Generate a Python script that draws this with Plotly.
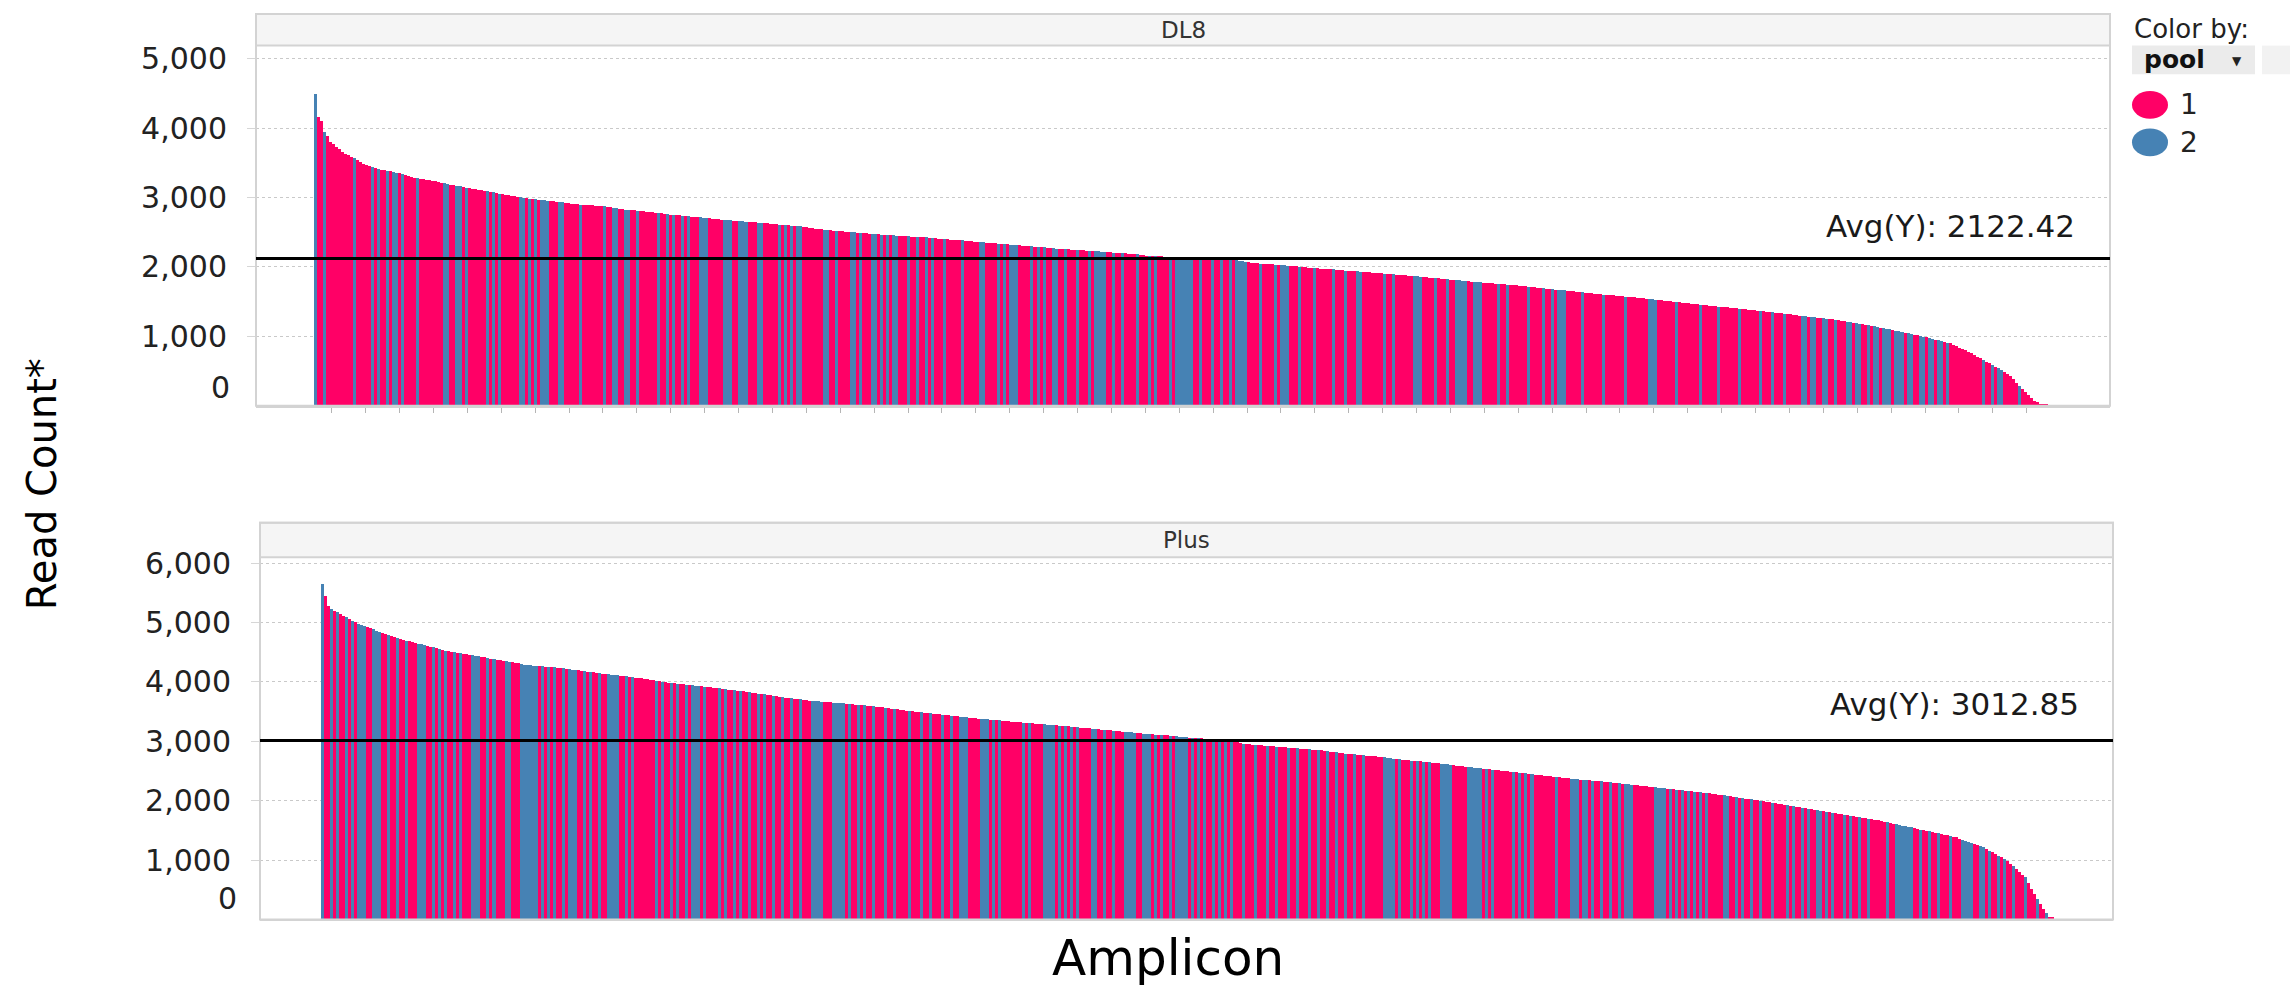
import plotly.graph_objects as go

# ---------------------------------------------------------------------------
# Data: read counts per amplicon, sorted high -> low, for each panel
# ---------------------------------------------------------------------------
DL8_READS = [
    4500, 4170, 4110, 3950, 3900, 3810, 3780, 3740, 3700, 3667, 3640, 3615, 3590, 3571, 3545, 3520, 3495, 3476, 3460, 3445, 3430, 3418, 3405, 3398,
    3392, 3386, 3381, 3368, 3356, 3343, 3330, 3318, 3306, 3296, 3286, 3278, 3270, 3263, 3256, 3248, 3241, 3228, 3218, 3210, 3200, 3192, 3184, 3176,
    3168, 3158, 3150, 3143, 3135, 3128, 3120, 3112, 3104, 3097, 3089, 3081, 3073, 3065, 3057, 3048, 3040, 3032, 3024, 3016, 3008, 3000, 2996, 2991,
    2986, 2981, 2976, 2971, 2966, 2961, 2956, 2952, 2947, 2943, 2938, 2932, 2927, 2921, 2916, 2910, 2905, 2902, 2899, 2896, 2893, 2889, 2886, 2882,
    2878, 2871, 2865, 2858, 2852, 2846, 2839, 2833, 2829, 2825, 2821, 2817, 2812, 2808, 2804, 2800, 2795, 2790, 2784, 2778, 2773, 2767, 2762, 2758,
    2754, 2750, 2746, 2742, 2737, 2733, 2729, 2725, 2720, 2716, 2711, 2707, 2702, 2698, 2693, 2689, 2686, 2682, 2678, 2675, 2671, 2667, 2664, 2660,
    2656, 2652, 2648, 2645, 2641, 2637, 2633, 2630, 2626, 2622, 2618, 2614, 2610, 2606, 2602, 2598, 2594, 2590, 2584, 2578, 2572, 2566, 2559, 2553,
    2547, 2541, 2538, 2534, 2531, 2527, 2524, 2520, 2517, 2513, 2509, 2506, 2502, 2498, 2495, 2491, 2487, 2484, 2480, 2477, 2474, 2471, 2468, 2465,
    2462, 2459, 2456, 2453, 2451, 2448, 2445, 2443, 2440, 2437, 2435, 2432, 2428, 2424, 2420, 2416, 2412, 2408, 2405, 2401, 2398, 2395, 2391, 2388,
    2385, 2381, 2377, 2373, 2369, 2365, 2361, 2357, 2354, 2350, 2346, 2342, 2339, 2335, 2332, 2328, 2325, 2321, 2318, 2315, 2311, 2308, 2305, 2301,
    2298, 2295, 2290, 2285, 2281, 2276, 2271, 2268, 2266, 2263, 2260, 2257, 2255, 2252, 2249, 2246, 2243, 2241, 2238, 2235, 2232, 2228, 2224, 2220,
    2217, 2213, 2209, 2207, 2205, 2202, 2200, 2198, 2195, 2189, 2183, 2177, 2171, 2168, 2166, 2163, 2160, 2158, 2155, 2152, 2150, 2147, 2144, 2141,
    2138, 2135, 2132, 2129, 2127, 2124, 2121, 2118, 2116, 2114, 2113, 2111, 2110, 2108, 2106, 2105, 2103, 2102, 2100, 2094, 2088, 2082, 2076, 2069,
    2063, 2057, 2054, 2051, 2048, 2045, 2042, 2039, 2036, 2033, 2029, 2025, 2021, 2018, 2014, 2010, 2006, 2002, 1998, 1994, 1990, 1986, 1983, 1980,
    1977, 1974, 1971, 1967, 1963, 1959, 1955, 1951, 1947, 1944, 1941, 1937, 1934, 1931, 1927, 1924, 1921, 1917, 1914, 1910, 1907, 1903, 1900, 1896,
    1893, 1889, 1886, 1882, 1878, 1874, 1870, 1866, 1862, 1858, 1854, 1850, 1846, 1842, 1838, 1834, 1830, 1825, 1821, 1817, 1812, 1808, 1804, 1799,
    1795, 1791, 1787, 1784, 1780, 1777, 1773, 1769, 1766, 1762, 1759, 1755, 1752, 1748, 1744, 1739, 1735, 1731, 1726, 1722, 1718, 1713, 1709, 1704,
    1700, 1695, 1691, 1686, 1681, 1676, 1672, 1667, 1662, 1658, 1653, 1648, 1644, 1640, 1635, 1631, 1627, 1622, 1618, 1614, 1609, 1605, 1600, 1596,
    1592, 1587, 1583, 1579, 1574, 1570, 1566, 1561, 1557, 1553, 1548, 1544, 1539, 1534, 1530, 1525, 1520, 1515, 1511, 1506, 1501, 1497, 1492, 1487,
    1482, 1477, 1473, 1468, 1463, 1459, 1454, 1449, 1444, 1440, 1435, 1431, 1426, 1422, 1418, 1413, 1409, 1404, 1400, 1396, 1391, 1387, 1382, 1378,
    1373, 1368, 1363, 1358, 1352, 1347, 1342, 1337, 1332, 1326, 1321, 1316, 1311, 1306, 1301, 1296, 1291, 1286, 1280, 1275, 1270, 1265, 1260, 1255,
    1249, 1242, 1236, 1229, 1222, 1215, 1208, 1202, 1195, 1188, 1182, 1175, 1167, 1158, 1149, 1140, 1131, 1122, 1114, 1105, 1096, 1088, 1079, 1070,
    1061, 1051, 1041, 1031, 1021, 1011, 1001, 991, 981, 971, 960, 949, 938, 926, 915, 903, 883, 864, 844, 824, 805, 785, 761, 737,
    713, 689, 665, 641, 618, 594, 570, 547, 523, 493, 463, 433, 386, 338, 290, 244, 199, 153, 115, 77, 55, 34, 29, 25,
]

PLUS_READS = [
    5646, 5449, 5281, 5230, 5197, 5168, 5140, 5112, 5084, 5056, 5028, 5000, 4979, 4958, 4937, 4916, 4898, 4880, 4861, 4843, 4824, 4805, 4785, 4766,
    4747, 4733, 4719, 4705, 4691, 4677, 4663, 4651, 4639, 4627, 4615, 4603, 4591, 4579, 4564, 4550, 4535, 4520, 4512, 4504, 4496, 4488, 4479, 4471,
    4463, 4455, 4446, 4436, 4427, 4418, 4409, 4399, 4390, 4381, 4372, 4362, 4353, 4344, 4335, 4326, 4317, 4307, 4298, 4289, 4280, 4275, 4271, 4266,
    4262, 4257, 4252, 4248, 4243, 4239, 4234, 4230, 4225, 4218, 4211, 4204, 4197, 4190, 4183, 4176, 4170, 4163, 4156, 4149, 4142, 4135, 4129, 4123,
    4117, 4111, 4105, 4099, 4094, 4088, 4082, 4076, 4070, 4064, 4056, 4048, 4040, 4032, 4024, 4016, 4007, 3999, 3991, 3983, 3975, 3970, 3965, 3960,
    3954, 3949, 3944, 3939, 3934, 3929, 3923, 3918, 3913, 3907, 3900, 3894, 3887, 3881, 3874, 3868, 3861, 3855, 3848, 3842, 3835, 3829, 3822, 3814,
    3807, 3799, 3792, 3785, 3777, 3770, 3762, 3755, 3747, 3740, 3733, 3727, 3720, 3713, 3706, 3700, 3693, 3686, 3682, 3678, 3673, 3669, 3665, 3661,
    3657, 3652, 3648, 3644, 3639, 3634, 3629, 3624, 3620, 3615, 3610, 3605, 3599, 3594, 3588, 3583, 3577, 3571, 3566, 3560, 3553, 3547, 3540, 3533,
    3527, 3520, 3513, 3507, 3500, 3493, 3487, 3482, 3476, 3471, 3465, 3459, 3454, 3448, 3443, 3437, 3431, 3426, 3420, 3415, 3409, 3403, 3398, 3392,
    3388, 3383, 3379, 3374, 3370, 3365, 3361, 3356, 3352, 3347, 3342, 3338, 3333, 3329, 3324, 3320, 3315, 3311, 3306, 3302, 3297, 3293, 3289, 3285,
    3281, 3277, 3273, 3269, 3265, 3261, 3257, 3252, 3247, 3242, 3237, 3233, 3228, 3223, 3218, 3213, 3208, 3203, 3198, 3193, 3188, 3183, 3178, 3173,
    3168, 3163, 3158, 3153, 3149, 3144, 3139, 3134, 3129, 3125, 3121, 3118, 3114, 3110, 3106, 3103, 3099, 3095, 3089, 3084, 3078, 3073, 3067, 3063,
    3059, 3055, 3051, 3047, 3043, 3040, 3036, 3032, 3028, 3024, 3020, 3016, 3013, 3010, 2995, 2985, 2976, 2967, 2958, 2951, 2944, 2940, 2936, 2932,
    2928, 2924, 2920, 2916, 2912, 2908, 2904, 2899, 2895, 2890, 2885, 2880, 2876, 2871, 2867, 2863, 2859, 2856, 2852, 2848, 2844, 2837, 2830, 2822,
    2815, 2808, 2800, 2793, 2788, 2784, 2779, 2774, 2770, 2765, 2761, 2756, 2752, 2747, 2743, 2737, 2730, 2724, 2717, 2711, 2705, 2698, 2692, 2687,
    2682, 2676, 2671, 2666, 2661, 2656, 2651, 2645, 2640, 2635, 2629, 2623, 2617, 2611, 2605, 2599, 2593, 2587, 2581, 2575, 2569, 2563, 2557, 2552,
    2546, 2541, 2535, 2530, 2524, 2518, 2513, 2507, 2502, 2496, 2490, 2484, 2478, 2472, 2466, 2460, 2454, 2448, 2441, 2435, 2429, 2423, 2417, 2412,
    2406, 2401, 2395, 2390, 2384, 2378, 2373, 2367, 2362, 2356, 2351, 2347, 2342, 2337, 2333, 2328, 2323, 2319, 2314, 2309, 2305, 2300, 2294, 2289,
    2283, 2278, 2272, 2266, 2261, 2255, 2249, 2244, 2238, 2233, 2227, 2221, 2216, 2210, 2205, 2199, 2194, 2188, 2182, 2177, 2171, 2166, 2160, 2154,
    2148, 2142, 2136, 2130, 2124, 2117, 2111, 2105, 2099, 2093, 2087, 2079, 2071, 2063, 2055, 2047, 2039, 2032, 2024, 2016, 2008, 2000, 1992, 1984,
    1976, 1968, 1960, 1952, 1944, 1936, 1928, 1920, 1912, 1904, 1896, 1888, 1879, 1871, 1862, 1854, 1846, 1837, 1829, 1820, 1812, 1803, 1795, 1786,
    1778, 1769, 1761, 1752, 1744, 1735, 1727, 1718, 1710, 1701, 1693, 1684, 1673, 1662, 1652, 1641, 1630, 1619, 1609, 1598, 1587, 1576, 1566, 1555,
    1544, 1533, 1522, 1510, 1499, 1488, 1477, 1466, 1455, 1443, 1432, 1421, 1410, 1398, 1387, 1376, 1357, 1339, 1320, 1301, 1283, 1264, 1245, 1227,
    1208, 1180, 1152, 1124, 1096, 1067, 1039, 1011, 983, 936, 889, 842, 796, 749, 702, 608, 515, 421, 337, 253, 169, 105, 40, 28,
]

# Amplicon positions (in sorted order) that belong to pool 2; all others are pool 1
DL8_POOL2 = [
    0, 3, 13, 19, 21, 24, 26, 27, 29, 34, 43, 44, 47, 48, 50, 57, 59, 61, 68, 69, 71, 73, 75, 76, 77, 81, 82, 88,
    96, 99, 100, 103, 104, 107, 114, 117, 119, 122, 124, 128, 129, 130, 136, 137, 138, 141, 142, 143, 147, 148,
    154, 156, 158, 160, 161, 169, 170, 173, 178, 179, 181, 185, 186, 188, 190, 192, 193, 197, 200, 203, 205, 209,
    215, 221, 222, 227, 229, 231, 232, 233, 238, 240, 242, 245, 246, 249, 253, 257, 259, 260, 261, 262, 265, 268,
    273, 277, 279, 284, 286, 287, 288, 289, 290, 291, 294, 298, 301, 304, 306, 307, 308, 309, 314, 319, 321, 322,
    323, 327, 332, 338, 342, 346, 347, 355, 358, 365, 366, 367, 372, 376, 379, 380, 381, 382, 385, 386, 387, 393,
    396, 403, 408, 411, 413, 414, 415, 421, 428, 435, 443, 444, 445, 452, 460, 466, 473, 480, 484, 488, 494, 495,
    497, 498, 501, 502, 505, 509, 510, 512, 513, 516, 518, 519, 521, 522, 523, 525, 526, 527, 529, 530, 533, 534,
    536, 537, 539, 540, 542, 554, 557, 559, 560, 566,
]

PLUS_POOL2 = [
    0, 3, 5, 8, 10, 12, 13, 14, 17, 18, 19, 22, 25, 28, 32, 33, 34, 37, 39, 41, 44, 46, 50, 51, 52, 55, 57, 61, 62,
    66, 67, 68, 69, 70, 71, 73, 75, 77, 80, 82, 83, 84, 87, 89, 92, 95, 96, 97, 98, 101, 103, 111, 113, 116, 118,
    121, 123, 124, 125, 127, 132, 134, 137, 139, 142, 145, 147, 150, 153, 156, 159, 163, 164, 165, 166, 170, 171,
    172, 173, 175, 178, 180, 183, 187, 190, 195, 199, 202, 206, 209, 212, 213, 214, 219, 220, 221, 223, 225, 233,
    235, 240, 241, 242, 243, 245, 247, 249, 251, 256, 257, 260, 263, 267, 268, 269, 270, 273, 274, 275, 277, 279,
    282, 284, 285, 286, 287, 289, 291, 293, 296, 298, 300, 302, 306, 310, 314, 317, 321, 324, 328, 331, 334, 337,
    340, 343, 346, 353, 354, 355, 356, 358, 362, 364, 366, 368, 372, 373, 374, 375, 381, 382, 383, 384, 385, 387,
    389, 396, 398, 400, 402, 410, 415, 416, 417, 419, 420, 422, 425, 428, 431, 433, 434, 435, 443, 444, 445, 446,
    448, 450, 452, 454, 456, 458, 460, 466, 467, 470, 472, 475, 478, 482, 487, 489, 492, 494, 497, 498, 500, 502,
    506, 508, 511, 514, 520, 523, 524, 525, 526, 527, 528, 531, 534, 537, 541, 545, 546, 547, 548, 551, 552, 554,
    557, 559, 562, 566, 570, 573,
]

DL8_AVG = 2122.42
PLUS_AVG = 3012.85

PANEL_TITLES = ["DL8", "Plus"]
POOL_LABELS = ["1", "2"]
POOL_COLORS = ["#FF0066", "#4682B4"]
DL8_YTICKS = [1000, 2000, 3000, 4000, 5000]
PLUS_YTICKS = [1000, 2000, 3000, 4000, 5000, 6000]

# ---------------------------------------------------------------------------
# Page geometry (pixels)
# ---------------------------------------------------------------------------
W, H = 2290, 989
FONT = "DejaVu Sans"
GRID = "#c9c9c9"
FRAME = "#d3d3d3"
TICK_SIZE = 30


def fx(px):
    return px / W


def fy(py):
    return 1 - py / H


# left/right frame, header top, plot top, baseline, first/last bar edge,
# pixel row of the top gridline and its value
PANELS = [
    dict(left=256, right=2110, head=2, top=34, base=398.5, bar0=314, bar1=2048,
         top_tick_px=47.5, top_tick=5000),
    dict(left=260, right=2113, head=517, top=552, base=918.6, bar0=321, bar1=2054,
         top_tick_px=558.0, top_tick=6000),
]


def pool_colors(n, pool2):
    s = set(pool2)
    return [POOL_COLORS[1] if i in s else POOL_COLORS[0] for i in range(n)]


fig = go.Figure()

series = [(DL8_READS, DL8_POOL2), (PLUS_READS, PLUS_POOL2)]
for k, (reads, pool2) in enumerate(series):
    n = len(reads)
    sfx = "" if k == 0 else str(k + 1)
    fig.add_trace(go.Bar(
        x=list(range(n)), y=reads, width=1.0,
        marker=dict(color=pool_colors(n, pool2), line=dict(width=0)),
        xaxis="x" + sfx, yaxis="y" + sfx, showlegend=False,
        hovertemplate="Amplicon %{x}<br>Read Count %{y}<extra></extra>",
    ))

shapes = []
annotations = []
layout_axes = {}

avgs = [DL8_AVG, PLUS_AVG]
yticks = [DL8_YTICKS, PLUS_YTICKS]
avg_text_px = [(2077, 217), (2081, 701)]
zero_label_px = [(232, 380), (239, 897)]

for k, p in enumerate(PANELS):
    sfx = "" if k == 0 else str(k + 1)
    n = len(series[k][0])
    unit = (p["bar1"] - p["bar0"]) / n
    r0 = -0.5 - (p["bar0"] - p["left"]) / unit
    r1 = r0 + (p["right"] - p["left"]) / unit
    ymax = p["top_tick"] * (p["base"] - p["top"]) / (p["base"] - p["top_tick_px"])

    xa = dict(
        domain=[fx(p["left"]), fx(p["right"])], range=[r0, r1],
        anchor="y" + sfx, showgrid=False, zeroline=False,
        showline=True, linecolor=FRAME, linewidth=2,
        showticklabels=False, fixedrange=True,
    )
    if k == 0:
        step = 33.9 / unit
        first = r0 + (331.7 - p["left"]) / unit
        ticks = []
        t = first
        while t < n:
            ticks.append(t)
            t += step
        xa.update(ticks="outside", ticklen=5, tickwidth=1, tickcolor="#b5b5b5",
                  tickvals=ticks)
    else:
        xa.update(ticks="")

    ya = dict(
        domain=[fy(p["base"]), fy(p["top"])], range=[0, ymax],
        anchor="x" + sfx, showgrid=True, gridcolor=GRID, griddash="dot",
        gridwidth=1, zeroline=False, showline=False,
        tickvals=yticks[k], ticktext=[f"{v:,}" for v in yticks[k]],
        ticks="outside", ticklen=8, tickcolor="#d6d6d6", ticklabelstandoff=14,
        tickfont=dict(family=FONT, size=TICK_SIZE, color="#222222"), fixedrange=True,
    )
    layout_axes["xaxis" + sfx] = xa
    layout_axes["yaxis" + sfx] = ya

    # panel header strip
    shapes.append(dict(type="rect", xref="paper", yref="paper",
                       x0=fx(p["left"]), x1=fx(p["right"]),
                       y0=fy(p["top"]), y1=fy(p["head"]),
                       fillcolor="#f5f5f5", line=dict(color=FRAME, width=2),
                       layer="below"))
    # panel frame
    shapes.append(dict(type="rect", xref="paper", yref="paper",
                       x0=fx(p["left"]), x1=fx(p["right"]),
                       y0=fy(p["base"]), y1=fy(p["head"]),
                       fillcolor="rgba(0,0,0,0)", line=dict(color=FRAME, width=2),
                       layer="above"))
    annotations.append(dict(
        text=PANEL_TITLES[k], xref="paper", yref="paper",
        x=fx((p["left"] + p["right"]) / 2), y=fy((p["head"] + p["top"]) / 2),
        xanchor="center", yanchor="middle", showarrow=False,
        font=dict(family=FONT, size=23, color="#333333")))

    # average reference line and its label
    shapes.append(dict(type="line", xref="paper", yref="y" + sfx,
                       x0=fx(p["left"]), x1=fx(p["right"]),
                       y0=avgs[k], y1=avgs[k],
                       line=dict(color="#000000", width=3), layer="above"))
    tx, ty = avg_text_px[k]
    annotations.append(dict(
        text=f"Avg(Y): {avgs[k]:.2f}", xref="paper", yref="paper",
        x=fx(tx), y=fy(ty), xanchor="right", yanchor="middle", showarrow=False,
        font=dict(family=FONT, size=31, color="#1a1a1a")))

    # zero label sits slightly above the baseline
    zx, zy = zero_label_px[k]
    annotations.append(dict(
        text="0", xref="paper", yref="paper", x=fx(zx), y=fy(zy),
        xanchor="right", yanchor="middle", showarrow=False,
        font=dict(family=FONT, size=TICK_SIZE, color="#222222")))

# axis titles
annotations.append(dict(
    text="Read Count*", xref="paper", yref="paper", x=fx(42), y=fy(478),
    xanchor="center", yanchor="middle", textangle=-90, showarrow=False,
    font=dict(family=FONT, size=40, color="#000000")))
annotations.append(dict(
    text="Amplicon", xref="paper", yref="paper", x=fx(1168), y=fy(958),
    xanchor="center", yanchor="middle", showarrow=False,
    font=dict(family=FONT, size=50, color="#000000")))

# colour legend
annotations.append(dict(
    text="Color by:", xref="paper", yref="paper", x=fx(2132), y=fy(17),
    xanchor="left", yanchor="middle", showarrow=False,
    font=dict(family=FONT, size=26, color="#222222")))
shapes.append(dict(type="rect", xref="paper", yref="paper",
                   x0=fx(2132), x1=fx(2255), y0=fy(63), y1=fy(34),
                   fillcolor="#ebebeb", line=dict(width=0)))
shapes.append(dict(type="rect", xref="paper", yref="paper",
                   x0=fx(2262), x1=fx(2290), y0=fy(63), y1=fy(34),
                   fillcolor="#f2f2f2", line=dict(width=0)))
annotations.append(dict(
    text="<b>pool</b>", xref="paper", yref="paper", x=fx(2142), y=fy(48),
    xanchor="left", yanchor="middle", showarrow=False,
    font=dict(family=FONT, size=25, color="#111111")))
annotations.append(dict(
    text="▼", xref="paper", yref="paper", x=fx(2237), y=fy(50),
    xanchor="center", yanchor="middle", showarrow=False,
    font=dict(family=FONT, size=12, color="#222222")))

legend_rows = [94, 132]
for j, label in enumerate(POOL_LABELS):
    cy = legend_rows[j]
    shapes.append(dict(type="circle", xref="paper", yref="paper",
                       x0=fx(2132), x1=fx(2168), y0=fy(cy + 14), y1=fy(cy - 14),
                       fillcolor=POOL_COLORS[j], line=dict(width=0)))
    annotations.append(dict(
        text=label, xref="paper", yref="paper", x=fx(2178), y=fy(cy),
        xanchor="left", yanchor="middle", showarrow=False,
        font=dict(family=FONT, size=28, color="#222222")))

fig.update_layout(
    width=W, height=H, autosize=False,
    margin=dict(l=0, r=0, t=0, b=0),
    paper_bgcolor="#ffffff", plot_bgcolor="#ffffff",
    bargap=0, barmode="overlay", showlegend=False,
    shapes=shapes, annotations=annotations,
    **layout_axes,
)

# the figure is sized to the full page, so drop the default page margin
fig.write_html(
    "out.html",
    post_script="document.documentElement.style.margin='0';"
                "document.body.style.margin='0';"
                "document.body.style.overflow='hidden';",
)
